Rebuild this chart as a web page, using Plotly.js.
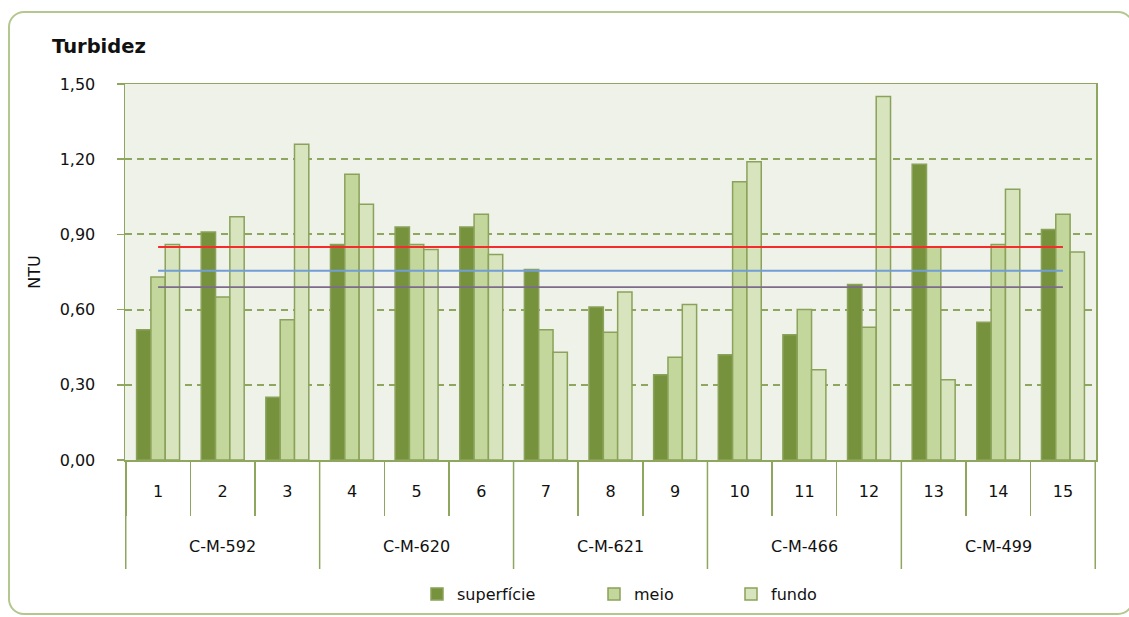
<!DOCTYPE html>
<html>
<head>
<meta charset="utf-8">
<script src="https://cdn.plot.ly/plotly-3.0.1.min.js"></script>
<style>
  html, body { margin: 0; padding: 0; background: #ffffff; }
  #wrap { position: relative; width: 1129px; height: 617px; }
  #chart { position: absolute; left: 0; top: 0; width: 1129px; height: 617px; }
  #frame {
    position: absolute; left: 8px; top: 11px; width: 1122px; height: 600px;
    border: 2px solid #b3c78e; border-radius: 16px; pointer-events: none;
  }
</style>
</head>
<body>
<div id="wrap">
  <div id="chart"></div>
  <div id="frame"></div>
</div>
<script>
// Sampling stations (group) and sampling points (sub-category)
const stations = ["C-M-592", "C-M-592", "C-M-592",
                  "C-M-620", "C-M-620", "C-M-620",
                  "C-M-621", "C-M-621", "C-M-621",
                  "C-M-466", "C-M-466", "C-M-466",
                  "C-M-499", "C-M-499", "C-M-499"];
const points = ["1", "2", "3", "4", "5", "6", "7", "8", "9", "10", "11", "12", "13", "14", "15"];

// Turbidity (NTU) per depth
const superficie = [0.52, 0.91, 0.25, 0.86, 0.93, 0.93, 0.76, 0.61, 0.34, 0.42, 0.50, 0.70, 1.18, 0.55, 0.92];
const meio       = [0.73, 0.65, 0.56, 1.14, 0.86, 0.98, 0.52, 0.51, 0.41, 1.11, 0.60, 0.53, 0.85, 0.86, 0.98];
const fundo      = [0.86, 0.97, 1.26, 1.02, 0.84, 0.82, 0.43, 0.67, 0.62, 1.19, 0.36, 1.45, 0.32, 1.08, 0.83];

// Mean level per depth
const meanLevels = { fundo: 0.85, meio: 0.755, superficie: 0.69 };

const olive = "#8ea65e";
const font = "DejaVu Sans, Verdana, sans-serif";
const txt = "#111111";
const xEnds = [points[0], points[points.length - 1]];

function barTrace(name, y, fill, legendId) {
  return {
    type: "bar", name: name, x: points, y: y,
    marker: { color: fill, line: { color: "#8aa25a", width: 1.5 } },
    legend: legendId, hoverinfo: "y+name"
  };
}
function meanTrace(level, color, width) {
  return {
    type: "scatter", mode: "lines", x: xEnds, y: [level, level],
    line: { color: color, width: width }, showlegend: false, hoverinfo: "skip"
  };
}

const data = [
  barTrace("superfície", superficie, "#77923c", "legend"),
  barTrace("meio", meio, "#c3d69b", "legend2"),
  barTrace("fundo", fundo, "#d8e4bd", "legend3"),
  meanTrace(meanLevels.fundo, "#f42c2c", 2),
  meanTrace(meanLevels.meio, "#729dd6", 1.8),
  meanTrace(meanLevels.superficie, "#7c6b8b", 1.8)
];

const W = 1129, H = 617;
const mL = 125, mR = 33, mT = 84, mB = 157;
const plotH = H - mT - mB;
const px2paperX = p => (p - mL) / (W - mL - mR);
const px2paperY = p => (H - mB - p) / plotH;

// Station groups: first/last category index of each run of equal names
const groups = [];
stations.forEach((s, i) => {
  const g = groups[groups.length - 1];
  if (g && g.name === s) g.end = i; else groups.push({ name: s, start: i, end: i });
});

// Group labels under the point labels, and long separators between groups
const groupLabels = groups.map(g => ({
  xref: "x", yref: "paper", x: (g.start + g.end) / 2, y: px2paperY(546),
  text: g.name, showarrow: false, yanchor: "middle",
  font: { family: font, size: 16, color: txt }
}));
const boundaries = [groups[0].start - 0.5].concat(groups.map(g => g.end + 0.5));
const dividers = boundaries.map(b => ({
  type: "line", xref: "x", yref: "paper", x0: b, x1: b, y0: 0, y1: px2paperY(569),
  line: { color: olive, width: 1.5 }, layer: "above"
}));

function legendAt(pxLeft) {
  return {
    orientation: "h", x: px2paperX(pxLeft), xanchor: "left",
    y: px2paperY(594), yanchor: "middle",
    font: { family: font, size: 16, color: txt },
    bgcolor: "rgba(0,0,0,0)", itemwidth: 30
  };
}

const layout = {
  width: W, height: H,
  margin: { l: mL, r: mR, t: mT, b: mB, pad: 0, autoexpand: false },
  paper_bgcolor: "rgba(0,0,0,0)",
  plot_bgcolor: "#eff2e9",
  separators: ", ",
  barmode: "group",
  bargap: 0.335,
  bargroupgap: 0,
  title: {
    text: "<b>Turbidez</b>",
    font: { family: font, size: 19.5, color: txt },
    xref: "container", yref: "container",
    x: 52 / W, xanchor: "left", y: 1 - 46 / H, yanchor: "middle"
  },
  xaxis: {
    type: "category",
    tickson: "boundaries",
    ticks: "outside", ticklen: 54, tickwidth: 1.5, tickcolor: olive,
    ticklabelstandoff: 16,
    showline: true, linecolor: olive, linewidth: 1.5, mirror: true,
    showgrid: false, zeroline: false,
    tickfont: { family: font, size: 16, color: txt }
  },
  yaxis: {
    range: [0, 1.5], dtick: 0.3, tick0: 0, tickformat: ".2f",
    ticks: "outside", ticklen: 7, tickwidth: 1.5, tickcolor: olive,
    ticklabelstandoff: 18,
    showline: true, linecolor: olive, linewidth: 1.5, mirror: true,
    showgrid: true, gridcolor: olive, gridwidth: 2, griddash: "7px,5px",
    zeroline: false,
    tickfont: { family: font, size: 16, color: txt },
    title: { text: "NTU", font: { family: font, size: 16, color: txt }, standoff: 15 }
  },
  annotations: groupLabels,
  shapes: dividers,
  legend: legendAt(417),
  legend2: legendAt(594),
  legend3: legendAt(731),
  showlegend: true
};

Plotly.newPlot("chart", data, layout, { displayModeBar: false, staticPlot: true });
</script>
</body>
</html>
